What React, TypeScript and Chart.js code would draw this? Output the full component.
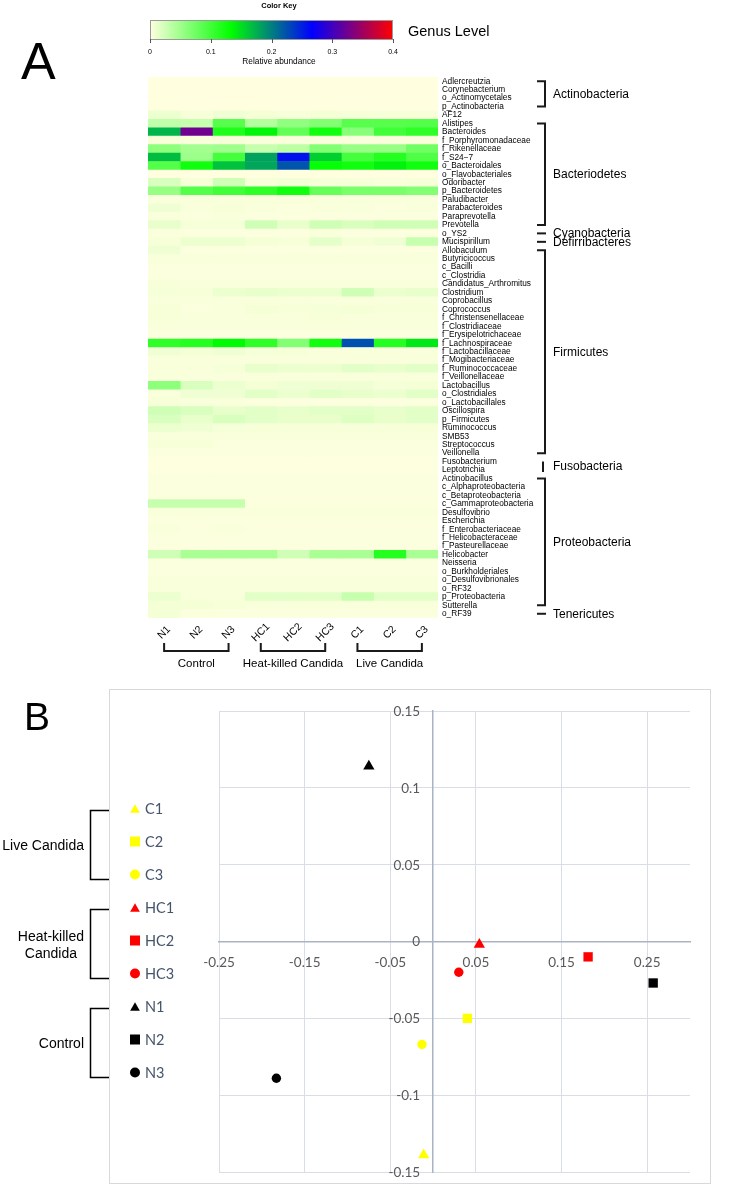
import { useEffect, useRef } from 'react';
import { Chart, registerables } from 'chart.js';

Chart.register(...registerables);

// ---------------- Panel A : heatmap data ----------------
const taxa = [
  'Adlercreutzia', 'Corynebacterium', 'o_Actinomycetales', 'p_Actinobacteria', 'AF12',
  'Alistipes', 'Bacteroides', 'f_Porphyromonadaceae', 'f_Rikenellaceae', 'f_S24\u22127',
  'o_Bacteroidales', 'o_Flavobacteriales', 'Odoribacter', 'p_Bacteroidetes', 'Paludibacter',
  'Parabacteroides', 'Paraprevotella', 'Prevotella', 'o_YS2', 'Mucispirillum',
  'Allobaculum', 'Butyricicoccus', 'c_Bacilli', 'c_Clostridia', 'Candidatus_Arthromitus',
  'Clostridium', 'Coprobacillus', 'Coprococcus', 'f_Christensenellaceae', 'f_Clostridiaceae',
  'f_Erysipelotrichaceae', 'f_Lachnospiraceae', 'f_Lactobacillaceae', 'f_Mogibacteriaceae', 'f_Ruminococcaceae',
  'f_Veillonellaceae', 'Lactobacillus', 'o_Clostridiales', 'o_Lactobacillales', 'Oscillospira',
  'p_Firmicutes', 'Ruminococcus', 'SMB53', 'Streptococcus', 'Veillonella',
  'Fusobacterium', 'Leptotrichia', 'Actinobacillus', 'c_Alphaproteobacteria', 'c_Betaproteobacteria',
  'c_Gammaproteobacteria', 'Desulfovibrio', 'Escherichia', 'f_Enterobacteriaceae', 'f_Helicobacteraceae',
  'f_Pasteurellaceae', 'Helicobacter', 'Neisseria', 'o_Burkholderiales', 'o_Desulfovibrionales',
  'o_RF32', 'p_Proteobacteria', 'Sutterella', 'o_RF39',
];

const samples = ['N1', 'N2', 'N3', 'HC1', 'HC2', 'HC3', 'C1', 'C2', 'C3'];

// relative abundance, one array per sample, in the order of `taxa`
const N1 = [
  0, 0, 0, 0, 0.010, 0.032, 0.172, 0.004, 0.060, 0.168,
  0.090, 0, 0.020, 0.055, 0.003, 0.008, 0.003, 0.012, 0.003, 0.004,
  0.008, 0.003, 0.002, 0.002, 0.004, 0.005, 0.003, 0.004, 0.004, 0.003,
  0.002, 0.110, 0.008, 0.003, 0.003, 0.003, 0.060, 0.003, 0.004, 0.025,
  0.020, 0.010, 0.003, 0.004, 0.002, 0.001, 0.001, 0.002, 0.002, 0.002,
  0.030, 0.003, 0.002, 0.003, 0.002, 0.002, 0.025, 0.002, 0.002, 0.003,
  0.003, 0.010, 0.006, 0.006,
];
const N2 = [
  0, 0, 0, 0, 0.004, 0.030, 0.325, 0.003, 0.048, 0.052,
  0.125, 0, 0.004, 0.090, 0.003, 0.003, 0.002, 0.005, 0.002, 0.010,
  0.002, 0.003, 0.002, 0.002, 0.003, 0.004, 0.003, 0.002, 0.003, 0.003,
  0.002, 0.115, 0.006, 0.003, 0.003, 0.003, 0.020, 0.008, 0.003, 0.020,
  0.012, 0.008, 0.003, 0.004, 0.002, 0.001, 0.001, 0.002, 0.002, 0.002,
  0.030, 0.003, 0.002, 0.002, 0.002, 0.002, 0.045, 0.002, 0.002, 0.003,
  0.003, 0.003, 0.006, 0.002,
];
const N3 = [
  0, 0, 0, 0, 0.008, 0.088, 0.118, 0.004, 0.050, 0.098,
  0.165, 0, 0.025, 0.100, 0.003, 0.004, 0.003, 0.005, 0.002, 0.010,
  0.002, 0.003, 0.002, 0.002, 0.003, 0.010, 0.003, 0.003, 0.003, 0.003,
  0.002, 0.135, 0.008, 0.003, 0.005, 0.003, 0.010, 0.008, 0.003, 0.012,
  0.020, 0.005, 0.003, 0.002, 0.002, 0.001, 0.001, 0.002, 0.002, 0.002,
  0.030, 0.003, 0.002, 0.003, 0.002, 0.002, 0.045, 0.002, 0.002, 0.003,
  0.003, 0.003, 0.004, 0.002,
];
const HC1 = [
  0, 0, 0, 0, 0.006, 0.040, 0.138, 0.003, 0.030, 0.182,
  0.180, 0, 0.004, 0.110, 0.003, 0.003, 0.002, 0.025, 0.002, 0.006,
  0.002, 0.003, 0.002, 0.002, 0.003, 0.012, 0.003, 0.006, 0.003, 0.003,
  0.002, 0.110, 0.005, 0.003, 0.012, 0.003, 0.006, 0.015, 0.002, 0.015,
  0.015, 0.004, 0.003, 0.002, 0.002, 0.001, 0.001, 0.002, 0.002, 0.002,
  0.002, 0.003, 0.002, 0.002, 0.002, 0.002, 0.045, 0.002, 0.002, 0.003,
  0.003, 0.015, 0.003, 0.002,
];
const HC2 = [
  0, 0, 0, 0, 0.004, 0.058, 0.082, 0.003, 0.035, 0.258,
  0.222, 0, 0.007, 0.125, 0.003, 0.002, 0.002, 0.012, 0.002, 0.004,
  0.002, 0.003, 0.002, 0.002, 0.003, 0.010, 0.003, 0.004, 0.003, 0.003,
  0.002, 0.065, 0.005, 0.003, 0.010, 0.003, 0.008, 0.010, 0.002, 0.012,
  0.012, 0.004, 0.003, 0.002, 0.002, 0.001, 0.001, 0.002, 0.002, 0.002,
  0.002, 0.003, 0.002, 0.002, 0.002, 0.002, 0.025, 0.002, 0.002, 0.003,
  0.003, 0.015, 0.003, 0.002,
];
const HC3 = [
  0, 0, 0, 0, 0.006, 0.065, 0.125, 0.003, 0.065, 0.158,
  0.130, 0, 0.004, 0.080, 0.003, 0.003, 0.002, 0.025, 0.003, 0.014,
  0.002, 0.003, 0.002, 0.002, 0.003, 0.010, 0.003, 0.005, 0.004, 0.003,
  0.002, 0.125, 0.003, 0.003, 0.010, 0.003, 0.008, 0.015, 0.002, 0.015,
  0.012, 0.004, 0.003, 0.002, 0.002, 0.001, 0.001, 0.002, 0.002, 0.002,
  0.002, 0.003, 0.002, 0.002, 0.002, 0.002, 0.045, 0.002, 0.002, 0.003,
  0.003, 0.015, 0.003, 0.002,
];
const C1 = [
  0, 0, 0, 0, 0.005, 0.088, 0.062, 0.003, 0.055, 0.098,
  0.125, 0, 0.005, 0.070, 0.003, 0.003, 0.002, 0.020, 0.002, 0.006,
  0.002, 0.003, 0.002, 0.002, 0.003, 0.025, 0.003, 0.006, 0.003, 0.003,
  0.002, 0.225, 0.003, 0.003, 0.015, 0.003, 0.008, 0.012, 0.002, 0.015,
  0.018, 0.004, 0.003, 0.002, 0.002, 0.001, 0.001, 0.002, 0.002, 0.002,
  0.002, 0.003, 0.002, 0.002, 0.002, 0.002, 0.045, 0.002, 0.002, 0.003,
  0.003, 0.030, 0.003, 0.002,
];
const C2 = [
  0, 0, 0, 0, 0.004, 0.088, 0.100, 0.003, 0.055, 0.115,
  0.140, 0, 0.003, 0.070, 0.003, 0.002, 0.002, 0.025, 0.002, 0.008,
  0.002, 0.003, 0.002, 0.002, 0.003, 0.010, 0.003, 0.004, 0.003, 0.003,
  0.002, 0.115, 0.003, 0.003, 0.012, 0.003, 0.005, 0.010, 0.002, 0.012,
  0.012, 0.004, 0.003, 0.002, 0.002, 0.001, 0.001, 0.002, 0.002, 0.002,
  0.002, 0.003, 0.002, 0.002, 0.002, 0.002, 0.115, 0.002, 0.002, 0.003,
  0.003, 0.015, 0.003, 0.002,
];
const C3 = [
  0, 0, 0, 0, 0.004, 0.090, 0.110, 0.003, 0.075, 0.092,
  0.125, 0, 0.004, 0.065, 0.003, 0.003, 0.002, 0.025, 0.002, 0.030,
  0.002, 0.003, 0.002, 0.002, 0.003, 0.012, 0.003, 0.004, 0.003, 0.003,
  0.002, 0.145, 0.003, 0.003, 0.015, 0.003, 0.006, 0.015, 0.002, 0.015,
  0.015, 0.004, 0.003, 0.002, 0.002, 0.001, 0.001, 0.002, 0.002, 0.002,
  0.002, 0.003, 0.002, 0.002, 0.002, 0.002, 0.045, 0.002, 0.002, 0.003,
  0.003, 0.015, 0.003, 0.002,
];
const sampleValues = [N1, N2, N3, HC1, HC2, HC3, C1, C2, C3];

const treatmentNames = ['Control', 'Heat-killed Candida', 'Live Candida'];
const treatmentFirst = [0, 3, 6];
const treatmentLast = [2, 5, 8];

const phylumNames = ['Actinobacteria', 'Bacteriodetes', 'Cyanobacteria', 'Defirribacteres', 'Firmicutes', 'Fusobacteria', 'Proteobacteria', 'Tenericutes'];
const phylumFirst = [0, 5, 18, 19, 20, 45, 47, 63];
const phylumLast = [3, 17, 18, 19, 44, 46, 62, 63];

const colorKeyTicks = [0, 0.1, 0.2, 0.3, 0.4];

// ---------------- Panel B : PCoA data ----------------
const pcoaSamples = ['C1', 'C2', 'C3', 'HC1', 'HC2', 'HC3', 'N1', 'N2', 'N3'];
const pcoaX = [-0.011, 0.040, -0.013, 0.054, 0.181, 0.030, -0.075, 0.257, -0.183];
const pcoaY = [-0.139, -0.050, -0.067, -0.002, -0.010, -0.020, 0.114, -0.027, -0.089];
const pcoaGroupNames = ['Live Candida', 'Heat-killed\nCandida', 'Control'];
const pcoaGroupFirst = [0, 3, 6];
const pcoaGroupLast = [2, 5, 8];
const pcoaXTicks = [-0.25, -0.15, -0.05, 0.05, 0.15, 0.25];

// ---------------- styles ----------------
const RAMP: [number, number[]][] = [
  [0, [255, 255, 224]],
  [0.4 / 3, [0, 255, 0]],
  [0.8 / 3, [0, 0, 255]],
  [0.4, [255, 0, 0]],
];
function abundanceColor(v: number) {
  const t = Math.max(0, Math.min(0.4, v));
  for (let i = 0; i < RAMP.length - 1; i++) {
    const [a, ca] = RAMP[i];
    const [b, cb] = RAMP[i + 1];
    if (t <= b) {
      const f = (t - a) / (b - a);
      const c = ca.map((x, k) => Math.round(x + (cb[k] - x) * f));
      return `rgb(${c[0]},${c[1]},${c[2]})`;
    }
  }
  return 'rgb(255,0,0)';
}

const ARIAL = '"Liberation Sans", Arial, Helvetica, sans-serif';
const CAL = 'Lato, "Open Sans", sans-serif';
const TICK_COLOR = '#595959';
const TICK_FONT = `13.5px ${CAL}`;

function groupColor(name: string) {
  if (name.startsWith('HC')) return '#FF0000';
  if (name.startsWith('C')) return '#FFFF00';
  return '#000000';
}
function groupShape(name: string) {
  const d = name.slice(-1);
  return d === '1' ? 'triangle' : d === '2' ? 'rect' : 'circle';
}
function pointSize(shape: string) {
  return shape === 'triangle' ? 6.5 : shape === 'rect' ? 6.6 : 4.7;
}
const tickFmt = (v: number) => String(Math.round(v * 100) / 100);

function drawMarker(ctx: CanvasRenderingContext2D, shape: string, cx: number, cy: number, color: string) {
  ctx.fillStyle = color;
  ctx.beginPath();
  if (shape === 'triangle') {
    const r = 5.6;
    const yc = cy + r / 4;
    ctx.moveTo(cx, yc - r);
    ctx.lineTo(cx + r * 0.866, yc + r / 2);
    ctx.lineTo(cx - r * 0.866, yc + r / 2);
    ctx.closePath();
  } else if (shape === 'rect') {
    ctx.rect(cx - 5, cy - 5, 10, 10);
  } else {
    ctx.arc(cx, cy, 5, 0, Math.PI * 2);
  }
  ctx.fill();
}

const heatDecor = {
  id: 'heatDecor',
  afterDraw(chart: any) {
    const { ctx, chartArea, scales } = chart;
    const xs = scales.x;
    const ys = scales.y;
    ctx.save();
    ctx.fillStyle = '#000';

    // panel letter
    ctx.font = `52px ${ARIAL}`;
    ctx.textAlign = 'left';
    ctx.textBaseline = 'alphabetic';
    ctx.fillText('A', 21, 79);

    // colour key
    const kx0 = 150, kx1 = 393, ky0 = 20, ky1 = 39;
    for (let px = kx0; px < kx1; px++) {
      ctx.fillStyle = abundanceColor(((px - kx0 + 0.5) / (kx1 - kx0)) * 0.4);
      ctx.fillRect(px, ky0, 1, ky1 - ky0);
    }
    ctx.strokeStyle = '#9a9a9a';
    ctx.lineWidth = 1;
    ctx.strokeRect(kx0 + 0.5, ky0 + 0.5, kx1 - kx0 - 1, ky1 - ky0);
    ctx.fillStyle = '#000';
    ctx.font = `7px ${ARIAL}`;
    ctx.textAlign = 'center';
    ctx.textBaseline = 'middle';
    colorKeyTicks.forEach((t) => {
      const px = kx0 + (t / 0.4) * (kx1 - kx0);
      ctx.beginPath();
      ctx.moveTo(Math.round(px) + 0.5, ky1);
      ctx.lineTo(Math.round(px) + 0.5, ky1 + 4);
      ctx.strokeStyle = '#555';
      ctx.stroke();
      ctx.fillText(String(t), px, 52);
    });
    ctx.font = `bold 7.5px ${ARIAL}`;
    ctx.fillText('Color Key', 279, 6);
    ctx.font = `8.3px ${ARIAL}`;
    ctx.fillText('Relative abundance', 279, 62);
    ctx.font = `14.5px ${ARIAL}`;
    ctx.textAlign = 'left';
    ctx.fillText('Genus Level', 408, 32);

    // column labels
    ctx.font = `10.5px ${ARIAL}`;
    samples.forEach((s, j) => {
      const cx = xs.getPixelForValue(j + 0.5);
      ctx.save();
      ctx.translate(cx, 632.5);
      ctx.rotate(-Math.PI / 4);
      ctx.textAlign = 'center';
      ctx.textBaseline = 'middle';
      ctx.fillText(s, 0, 0);
      ctx.restore();
    });

    // treatment brackets
    ctx.strokeStyle = '#1a1a1a';
    ctx.lineWidth = 2;
    ctx.font = `11.5px ${ARIAL}`;
    ctx.textAlign = 'center';
    treatmentNames.forEach((name, g) => {
      const a = xs.getPixelForValue(treatmentFirst[g] + 0.5);
      const b = xs.getPixelForValue(treatmentLast[g] + 0.5);
      ctx.beginPath();
      ctx.moveTo(a, 643);
      ctx.lineTo(a, 651);
      ctx.lineTo(b, 651);
      ctx.lineTo(b, 643);
      ctx.stroke();
      ctx.fillText(name, (a + b) / 2, 664);
    });

    // phylum brackets
    const bx = chartArea.right + 107;
    ctx.font = `12px ${ARIAL}`;
    ctx.textAlign = 'left';
    phylumNames.forEach((name, p) => {
      const y1 = ys.getPixelForValue(phylumFirst[p]);
      const y2 = ys.getPixelForValue(phylumLast[p]);
      ctx.beginPath();
      if (phylumFirst[p] === phylumLast[p]) {
        ctx.moveTo(bx - 8, y1);
        ctx.lineTo(bx + 1, y1);
      } else if (phylumLast[p] - phylumFirst[p] === 1) {
        ctx.moveTo(bx - 2, y1);
        ctx.lineTo(bx - 2, y2 + 2);
      } else {
        ctx.moveTo(bx - 8, y1);
        ctx.lineTo(bx, y1);
        ctx.lineTo(bx, y2);
        ctx.lineTo(bx - 8, y2);
      }
      ctx.stroke();
      ctx.fillText(name, bx + 8, (y1 + y2) / 2 + 0.5);
    });
    ctx.restore();
  },
};

const pcoaDecor = {
  id: 'pcoaDecor',
  afterDraw(chart: any) {
    const { ctx, scales } = chart;
    ctx.save();

    // y tick labels, placed left of the x = 0 axis line
    const xs = scales.x;
    const ys = scales.y;
    const axisX = xs.getPixelForValue(0);
    ctx.fillStyle = TICK_COLOR;
    ctx.font = TICK_FONT;
    ctx.textAlign = 'right';
    ctx.textBaseline = 'middle';
    ys.ticks.forEach((t: any) => {
      ctx.fillText(tickFmt(t.value), axisX - 13, ys.getPixelForValue(t.value) + 0.5);
    });

    ctx.strokeStyle = '#d9d9d9';
    ctx.lineWidth = 1;
    ctx.strokeRect(109.5, 4.5, 601, 494);

    ctx.fillStyle = '#000';
    ctx.font = `39px ${ARIAL}`;
    ctx.textAlign = 'left';
    ctx.textBaseline = 'alphabetic';
    ctx.fillText('B', 24, 45);

    // legend
    const lx = 135, ly0 = 123.5, step = 33;
    ctx.textBaseline = 'middle';
    pcoaSamples.forEach((s, i) => {
      const cy = ly0 + step * i;
      drawMarker(ctx, groupShape(s), lx, cy, groupColor(s));
      ctx.fillStyle = '#44546a';
      ctx.font = `14.5px ${CAL}`;
      ctx.textAlign = 'left';
      ctx.fillText(s, 145, cy + 0.5);
    });

    // group brackets
    ctx.strokeStyle = '#000';
    ctx.lineWidth = 1.5;
    ctx.fillStyle = '#000';
    ctx.font = `14px ${ARIAL}`;
    pcoaGroupNames.forEach((name, g) => {
      const yTop = ly0 + step * pcoaGroupFirst[g] + 2;
      const yBot = ly0 + step * pcoaGroupLast[g] + 5;
      ctx.beginPath();
      ctx.moveTo(109, yTop);
      ctx.lineTo(90.5, yTop);
      ctx.lineTo(90.5, yBot);
      ctx.lineTo(109, yBot);
      ctx.stroke();
      const mid = (yTop + yBot) / 2;
      const lines = name.split('\n');
      if (lines.length === 1) {
        ctx.textAlign = 'right';
        ctx.fillText(name, 84, mid + 1);
      } else {
        const w = Math.max(...lines.map((l) => ctx.measureText(l).width));
        ctx.textAlign = 'center';
        lines.forEach((l, k) => ctx.fillText(l, 84 - w / 2, mid - 7 + k * 17));
      }
    });
    ctx.restore();
  },
};

export default function App() {
  const heatRef = useRef<HTMLCanvasElement>(null);
  const pcoaRef = useRef<HTMLCanvasElement>(null);

  useEffect(() => {
    const heat = new Chart(heatRef.current as HTMLCanvasElement, {
      type: 'bar',
      data: {
        labels: taxa,
        datasets: samples.map((s, j) => ({
          label: s,
          data: taxa.map(() => [j, j + 1]),
          backgroundColor: sampleValues[j].map((v) => abundanceColor(v)),
          borderWidth: 0,
          barPercentage: 1,
          categoryPercentage: 1,
          grouped: false,
        })),
      } as any,
      options: {
        indexAxis: 'y',
        animation: false,
        responsive: false,
        devicePixelRatio: 1,
        events: [],
        layout: { padding: { left: 148, top: 77, bottom: 67, right: 0 } },
        scales: {
          x: { type: 'linear', min: 0, max: 9, display: false },
          y: {
            position: 'right',
            grid: { display: false, drawTicks: false },
            border: { display: false },
            ticks: {
              autoSkip: false,
              padding: 4,
              color: '#000',
              font: { family: ARIAL, size: 8.3 },
            },
            afterFit: (scale: any) => {
              scale.width = 312;
            },
          },
        },
        plugins: { legend: { display: false }, tooltip: { enabled: false } },
      } as any,
      plugins: [heatDecor],
    });

    const pcoa = new Chart(pcoaRef.current as HTMLCanvasElement, {
      type: 'scatter',
      data: {
        datasets: pcoaSamples.map((s, i) => {
          const shape = groupShape(s);
          return {
            label: s,
            data: [{ x: pcoaX[i], y: pcoaY[i] }],
            pointStyle: shape,
            pointRadius: pointSize(shape),
            backgroundColor: groupColor(s),
            borderColor: groupColor(s),
            borderWidth: 0,
          };
        }),
      } as any,
      options: {
        animation: false,
        responsive: false,
        devicePixelRatio: 1,
        events: [],
        layout: { padding: { left: 219, right: 60, top: 26, bottom: 15 } },
        scales: {
          x: {
            type: 'linear',
            min: -0.25,
            max: 0.3,
            position: { y: 0 },
            afterBuildTicks: (scale: any) => {
              scale.ticks = pcoaXTicks.map((v) => ({ value: v }));
            },
            grid: { color: '#d9dde6', drawTicks: false },
            border: { color: '#aab3c5', width: 1.5 },
            ticks: { padding: 13, color: TICK_COLOR, font: { family: CAL, size: 13.5 }, callback: (v: any) => tickFmt(v) },
          },
          y: {
            type: 'linear',
            min: -0.15,
            max: 0.15,
            position: { x: 0 },
            grid: { color: '#d9dde6', drawTicks: false },
            border: { color: '#aab3c5', width: 1.5 },
            ticks: { stepSize: 0.05, display: false },
          },
        },
        plugins: { legend: { display: false }, tooltip: { enabled: false } },
      } as any,
      plugins: [pcoaDecor],
    });

    return () => {
      heat.destroy();
      pcoa.destroy();
    };
  }, []);

  return (
    <div style={{ position: 'absolute', left: 0, top: 0, width: 750, height: 1187, background: '#fff', overflow: 'hidden' }}>
      <canvas ref={heatRef} width={750} height={685} style={{ position: 'absolute', left: 0, top: 0, width: 750, height: 685 }} />
      <canvas ref={pcoaRef} width={750} height={502} style={{ position: 'absolute', left: 0, top: 685, width: 750, height: 502 }} />
    </div>
  );
}
